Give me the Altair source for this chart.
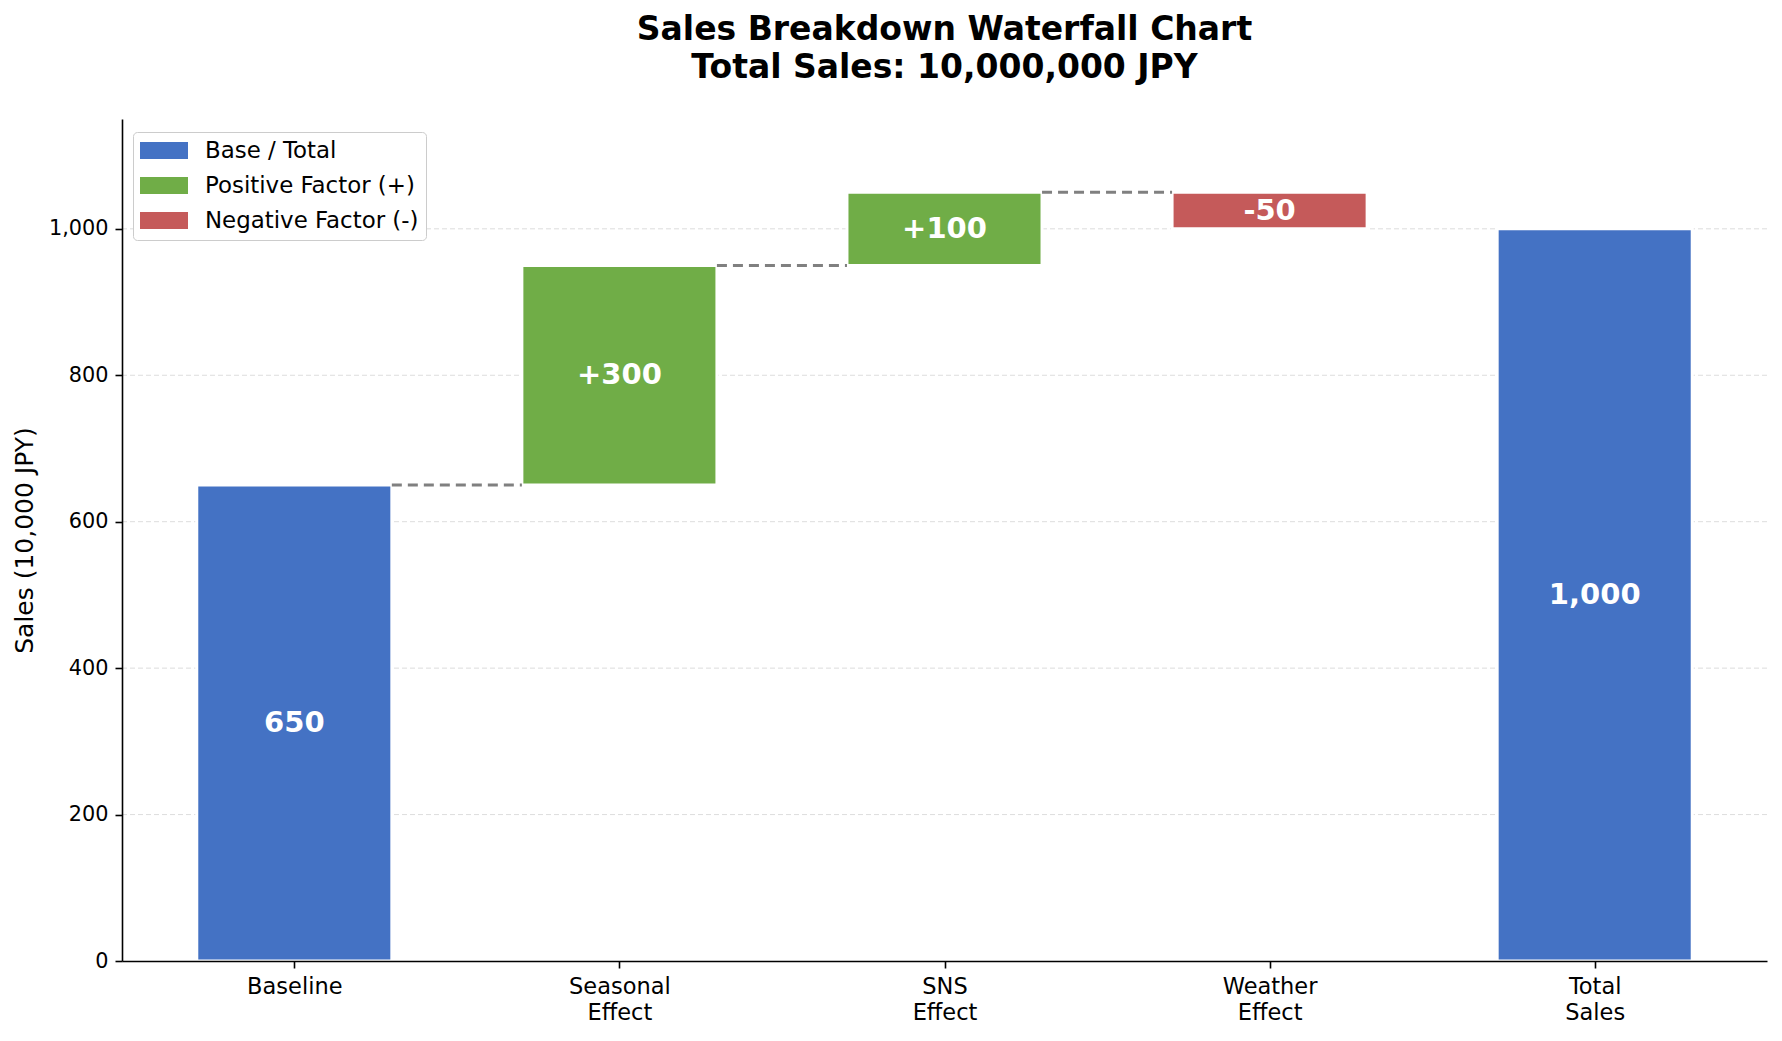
import altair as alt
import pandas as pd

categories = ["Baseline", "Seasonal\nEffect", "SNS\nEffect", "Weather\nEffect", "Total\nSales"]
values = [650, 300, 100, -50, 1000]
kinds = ["Base / Total", "Positive Factor (+)", "Positive Factor (+)", "Negative Factor (-)", "Base / Total"]
bar_labels = ["650", "+300", "+100", "-50", "1,000"]
legend_order = ["Base / Total", "Positive Factor (+)", "Negative Factor (-)"]
legend_colors = ["#4472C4", "#70AD47", "#C55A5A"]
y_ticks = [0, 200, 400, 600, 800, 1000]

FONT = "DejaVu Sans"

# waterfall geometry from the values
starts, ends = [], []
running = 0
for i, (v, k) in enumerate(zip(values, kinds)):
    if i == 0 or i == len(values) - 1:
        starts.append(0)
        ends.append(v)
        running = v
    else:
        starts.append(running)
        running = running + v
        ends.append(running)

bars = pd.DataFrame({
    "idx": list(range(len(categories))),
    "cat": categories,
    "kind": kinds,
    "start": starts,
    "end": ends,
    "label": bar_labels,
})
bars["mid"] = (bars["start"] + bars["end"]) / 2

conn = pd.DataFrame({
    "idx": list(range(len(categories) - 2)),
    "level": ends[: len(categories) - 2],
})

grid = pd.DataFrame({"v": y_ticks[1:]})

half = 0.3
xscale = alt.Scale(domain=[-0.53, 4.53], nice=False, zero=False)
yscale = alt.Scale(domain=[0, 1150], nice=False)

label_array = "[" + ",".join("'" + c.replace("\n", "\\n") + "'" for c in categories) + "]"

x_axis = alt.Axis(
    values=list(range(len(categories))),
    labelExpr="split(" + label_array + "[datum.value], '\\n')",
    title=None, grid=False, labelFont=FONT, labelFontSize=22.5, labelColor="black",
    labelLineHeight=26, tickSize=7, tickWidth=1.6, tickColor="black",
    labelPadding=7, domainColor="black", domainWidth=1.6, zindex=1, labelFlush=False,
)
y_axis = alt.Axis(
    values=y_ticks, format=",.0f", title="Sales (10,000 JPY)", grid=False,
    labelFont=FONT, labelFontSize=20.8, labelColor="black", tickSize=7, tickWidth=1.6,
    tickColor="black", labelPadding=7, domainColor="black", domainWidth=1.6,
    titleFont=FONT, titleFontSize=25, titleFontWeight="normal", titleColor="black",
    titlePadding=11, zindex=1,
)

gridlines = alt.Chart(grid).mark_rule(color="#dddddd", strokeWidth=1, strokeDash=[5, 3]).encode(
    y=alt.Y("v:Q", scale=yscale, axis=y_axis),
)

bar_layer = alt.Chart(bars).transform_calculate(
    x0="datum.idx - %s" % half, x1="datum.idx + %s" % half
).mark_bar(stroke="white", strokeWidth=3).encode(
    x=alt.X("x0:Q", scale=xscale, axis=x_axis),
    x2="x1:Q",
    y=alt.Y("start:Q", scale=yscale),
    y2="end:Q",
    color=alt.Color(
        "kind:N",
        scale=alt.Scale(domain=legend_order, range=legend_colors),
        legend=alt.Legend(
            title=None, orient="none", legendX=11, legendY=13,
            symbolType="M-1,-0.35H1V0.35H-1Z", symbolSize=2304, symbolStrokeWidth=0,
            symbolOffset=0, labelOffset=17, clipHeight=23, rowPadding=11,
            labelFont=FONT, labelFontSize=22.9, labelColor="black", labelLimit=0,
            padding=7, strokeColor="#cccccc", fillColor="white", cornerRadius=4,
        ),
    ),
)

conn_layer = alt.Chart(conn).transform_calculate(
    x0="datum.idx + %s" % half, x1="datum.idx + 1 - %s" % half
).mark_rule(color="#808080", strokeWidth=3, strokeDash=[10, 6]).encode(
    x=alt.X("x0:Q", scale=xscale),
    x2="x1:Q",
    y=alt.Y("level:Q", scale=yscale),
)

text_layer = alt.Chart(bars).mark_text(
    font=FONT, fontSize=29, fontWeight="bold", color="white", baseline="middle", align="center"
).encode(
    x=alt.X("idx:Q", scale=xscale),
    y=alt.Y("mid:Q", scale=yscale),
    text="label:N",
)

chart = alt.layer(gridlines, bar_layer, conn_layer, text_layer).properties(
    width=1645,
    height=842,
    background="white",
    autosize=alt.AutoSizeParams(type="none"),
    padding={"left": 114, "top": 111, "right": 7, "bottom": 72},
    title=alt.TitleParams(
        ["Sales Breakdown Waterfall Chart", "Total Sales: 10,000,000 JPY"],
        font=FONT, fontSize=33, fontWeight="bold", color="black", anchor="middle",
        lineHeight=38, offset=34,
    ),
).configure_view(strokeWidth=0, stroke=None)

chart.save("out.html", embed_options={"renderer": "svg", "actions": False})
